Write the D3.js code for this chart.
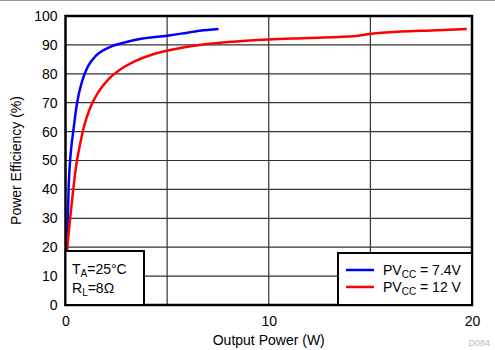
<!DOCTYPE html>
<html><head><meta charset="utf-8">
<script src="https://cdn.jsdelivr.net/npm/d3@7"></script>
<style>body{margin:0;background:#fff}svg{display:block;font-family:"Liberation Sans",Arial,sans-serif}</style>
</head><body>
<svg id="c" width="495" height="350"></svg>
<script>
const blueX = [0.07,0.16,0.25,0.38,0.57,0.82,1.1,1.5,1.9,2.3,3.0,3.8,5.0,5.7,6.6,7.53];
const blueY = [19,42,52,60,70,77.5,82.5,86.3,88.3,89.6,91.0,92.2,93.2,93.9,94.9,95.5];
const redX = [0.07,0.2,0.35,0.5,0.7,0.9,1.2,1.6,2.1,2.7,3.4,4.2,5.0,6.6,8.0,10.0,12.0,14.3,15.0,16.5,18.0,19.74];
const redY = [19,28,38,47,55,61.5,68,73.5,78,81.5,84.3,86.5,88,90,91,91.9,92.4,93.1,93.8,94.6,95.0,95.5];
const yTicks = [0,10,20,30,40,50,60,70,80,90,100];
const xTicks = [0,10,20];
const xGrid = [5,10,15];
const legendLabels = [["PV","CC"," = 7.4V"],["PV","CC"," = 12 V"]];
const seriesColors = ["#0000ff","#ff0000"];

const svg = d3.select("#c");
const L=65.5,R=472,T=16,B=305;
const FS=14;
const x = d3.scaleLinear().domain([0,20]).range([L,R]);
const y = d3.scaleLinear().domain([0,100]).range([B,T]);

svg.append("line").attr("x1",0).attr("x2",495).attr("y1",0.5).attr("y2",0.5).attr("stroke","#999").attr("stroke-width",1);

// grid
svg.append("g").selectAll("line").data(yTicks.slice(1,-1)).join("line")
  .attr("x1",L).attr("x2",R).attr("y1",d=>y(d)).attr("y2",d=>y(d)).attr("stroke","#333").attr("stroke-width",1.2);
svg.append("g").selectAll("line").data(xGrid).join("line")
  .attr("y1",T).attr("y2",B).attr("x1",d=>x(d)).attr("x2",d=>x(d)).attr("stroke","#333").attr("stroke-width",1.2);

// axes labels
const ya = d3.axisLeft(y).tickValues(yTicks).tickSize(0).tickPadding(8);
svg.append("g").attr("transform",`translate(${L},0)`).call(ya).call(g=>{g.select(".domain").remove();g.selectAll("text").attr("font-size",FS).attr("fill","#000").attr("font-family","Liberation Sans, Arial, sans-serif");});
const xa = d3.axisBottom(x).tickValues(xTicks).tickSize(0).tickPadding(11);
svg.append("g").attr("transform",`translate(0,${B})`).call(xa).call(g=>{g.select(".domain").remove();g.selectAll("text").attr("font-size",FS).attr("fill","#000").attr("font-family","Liberation Sans, Arial, sans-serif");});

svg.append("text").attr("x",(L+R)/2).attr("y",345).attr("text-anchor","middle").attr("font-size",FS).text("Output Power (W)");
svg.append("text").attr("transform",`translate(21,${(T+B)/2}) rotate(-90)`).attr("text-anchor","middle").attr("font-size",FS).text("Power Efficiency (%)");

// curves
const line = d3.line().x(d=>x(d[0])).y(d=>y(d[1])).curve(d3.curveMonotoneX);
const series = [d3.zip(blueX,blueY), d3.zip(redX,redY)];
svg.append("g").selectAll("path").data(series).join("path")
  .attr("d",line).attr("fill","none").attr("stroke",(d,i)=>seriesColors[i]).attr("stroke-width",2.5);

// plot border
svg.append("rect").attr("x",L).attr("y",T).attr("width",R-L).attr("height",B-T).attr("fill","none").attr("stroke","#000").attr("stroke-width",2.5);

// annotation box
svg.append("rect").attr("x",L).attr("y",251).attr("width",144-L).attr("height",B-251).attr("fill","#fff").attr("stroke","#000").attr("stroke-width",2);
const t1 = svg.append("text").attr("x",72).attr("y",274).attr("font-size",FS);
t1.append("tspan").text("T"); t1.append("tspan").attr("font-size",10).attr("dy",3).text("A"); t1.append("tspan").attr("dy",-3).text("=25°C");
const t2 = svg.append("text").attr("x",72).attr("y",293).attr("font-size",FS);
t2.append("tspan").text("R"); t2.append("tspan").attr("font-size",10).attr("dy",3).text("L"); t2.append("tspan").attr("dy",-3).text("=8Ω");

// legend
svg.append("rect").attr("x",338).attr("y",253).attr("width",R-338).attr("height",B-253).attr("fill","#fff").attr("stroke","#000").attr("stroke-width",2);
const lg = svg.append("g").selectAll("g").data(legendLabels).join("g").attr("transform",(d,i)=>`translate(0,${270+i*17})`);
lg.append("line").attr("x1",346).attr("x2",374).attr("stroke",(d,i)=>seriesColors[i]).attr("stroke-width",2.5);
const lt = lg.append("text").attr("x",383).attr("y",5).attr("font-size",FS);
lt.append("tspan").text(d=>d[0]);
lt.append("tspan").attr("font-size",10).attr("dy",3).text(d=>d[1]);
lt.append("tspan").attr("dy",-3).text(d=>d[2]);

svg.append("text").attr("x",490).attr("y",346).attr("text-anchor","end").attr("font-size",9).attr("fill","#bbb").text("D084");
</script>
</body></html>
